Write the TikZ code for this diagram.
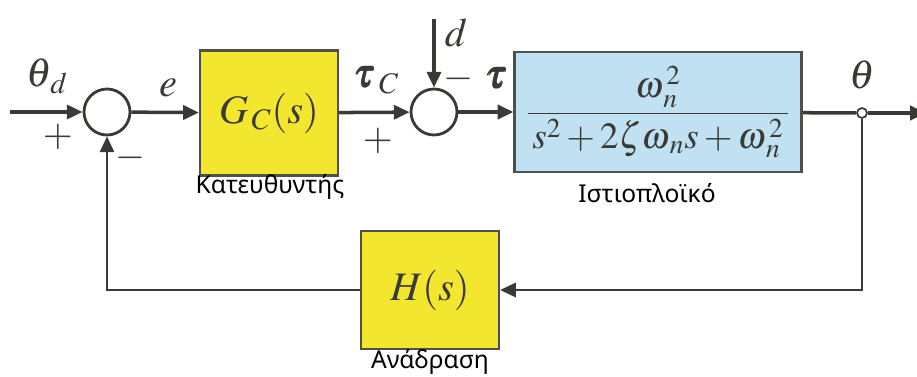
\documentclass[tikz,border=0pt]{standalone}
\usepackage{amsmath,amssymb}
\usepackage{mathptmx}
\usepackage{fontspec}
\usepackage{xcolor}
\usetikzlibrary{arrows.meta,positioning,calc}
\newfontfamily\grfont{Noto Sans}
\definecolor{blkyellow}{RGB}{242,230,46}
\definecolor{blkblue}{RGB}{192,225,242}
\definecolor{wire}{RGB}{58,58,52}
\definecolor{edge}{RGB}{80,80,75}

\begin{document}
\begin{tikzpicture}[x=0.02cm, y=-0.02cm, every node/.style={font=\fontsize{23}{26}\selectfont, text=wire}]
  \tikzset{
    block/.style={draw=edge, line width=1.2pt, minimum width=2.76cm, minimum height=2.5cm, inner sep=0pt},
    summer/.style={circle, draw=wire, line width=1.6pt, fill=white, minimum size=0.92cm, inner sep=0pt},
    sig/.style={wire, line width=2pt, -{Triangle[length=9pt,width=8pt]}},
    fbline/.style={wire, line width=1.6pt},
    caption/.style={font=\grfont\fontsize{14}{16}\selectfont, text=black},
    sign/.style={font=\fontsize{22}{24}\selectfont, text=wire}
  }
  \useasboundingbox (0,0) rectangle (917,376);

  % blocks and summing points
  \node[summer] (sum1) at (107,112) {};
  \node[block, fill=blkyellow] (ctrl) at (269,113) {$G_{\,C}(s)$};
  \node[summer] (sum2) at (434,112) {};
  \node[block, fill=blkblue, minimum width=5.74cm, minimum height=2.4cm, font=\fontsize{21}{24}\selectfont] (plant) at (658,112)
    {$\dfrac{\omega^{\,2}_{\,n}}{\,s^{2}+2\zeta\omega_{\,n}s+\omega^{\,2}_{\,n}\,}$};
  \node[circle, draw=wire, line width=1pt, fill=white, minimum size=0.2cm, inner sep=0pt] (branch) at (862,113) {};
  \node[block, fill=blkyellow, minimum height=2.36cm] (fb) at (430,290) {$H(s)$};

  \coordinate (in) at (10,112);
  \coordinate (out) at (926,113);
  \coordinate (dtop) at (434,19);
  \coordinate (cR) at (862,290);
  \coordinate (cL) at (107,290);

  % forward path
  \draw[sig] (in) -- (sum1);
  \draw[sig] (sum1) -- (ctrl);
  \draw[sig] (ctrl) -- (sum2);
  \draw[sig] (dtop) -- (sum2);
  \draw[sig] (sum2) -- (plant);
  \draw[wire, line width=2pt] (plant) -- (branch);
  \draw[sig] (branch) -- (out);

  % feedback path
  \draw[fbline, -{Triangle[length=9pt,width=8pt]}] (branch) -- (cR) -- (fb);
  \draw[fbline, -{Triangle[length=9pt,width=8pt]}] (fb) -- (cL) -- (sum1);

  % signal labels
  \node (lthd) at (47,76) {$\theta_{\,d}$};
  \node (le) at (168,88) {$e$};
  \node (ltc) at (377,80) {$\pmb{\tau}_{\,C}$};
  \node (ld) at (456,33) {$d$};
  \node (ltau) at (497,78) {$\pmb{\tau}$};
  \node (lth) at (862,75) {$\theta$};

  % signs
  \node[sign] (p1) at (58,137) {$+$};
  \node[sign] (m1) at (131,158) {$-$};
  \node[sign] (p2) at (378,141) {$+$};
  \node[sign] (m2) at (459,79) {$-$};

  % captions
  \node[caption] (cap1) at (270,187) {Κατευθυντής};
  \node[caption] (cap2) at (647,193) {Ιστιοπλοϊκό};
  \node[caption] (cap3) at (430,362) {Ανάδραση};
\end{tikzpicture}
\end{document}
